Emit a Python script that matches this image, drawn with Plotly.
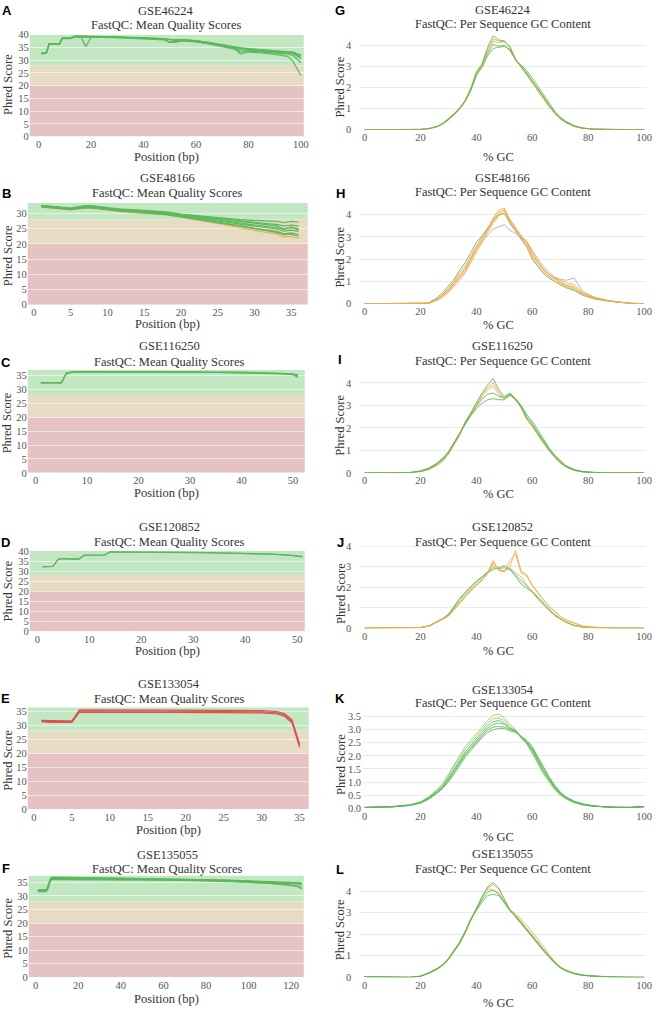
import plotly.graph_objects as go

W, H = 660, 1015
GREEN = '#5cb85c'
ORANGE = '#f0ad4e'
RED = '#d9534f'
MAUVE = '#c9a0a8'

# ---------------- Mean quality score data ----------------
A_x = [1, 2, 3, 4, 5, 6, 7, 8, 9, 10, 12, 14, 16, 18, 20, 25, 30, 35, 40, 45, 48, 50, 52, 55, 60, 65, 70, 75, 77, 80, 85, 90, 95, 97, 100]
A1 = [32.8, 32.8, 32.8, 36.4, 36.4, 36.4, 36.4, 36.4, 38.6, 38.6, 38.6, 39.3, 39.3, 39.3, 39.2, 39.1, 39.0, 38.9, 38.8, 38.6, 38.4, 38.0, 37.8, 38.0, 37.6, 36.8, 35.9, 34.9, 34.6, 34.3, 33.9, 33.5, 33.2, 33.0, 31.6]
A2 = [32.5, 32.5, 33.0, 36.3, 36.3, 36.3, 36.3, 36.3, 38.5, 38.5, 38.5, 39.2, 39.2, 39.2, 39.1, 39.0, 38.9, 38.8, 38.6, 38.4, 38.1, 37.1, 37.3, 37.8, 37.4, 36.6, 35.7, 34.6, 34.0, 33.9, 33.5, 33.1, 32.8, 32.6, 30.6]
A3 = [32.6, 32.6, 32.9, 36.5, 36.5, 36.5, 36.5, 36.5, 38.7, 38.7, 38.7, 39.4, 39.4, 39.4, 39.3, 39.2, 39.1, 39.0, 38.9, 38.7, 38.5, 38.2, 38.0, 38.1, 37.7, 37.0, 36.1, 35.1, 34.8, 34.5, 34.1, 33.8, 33.4, 33.2, 32.0]
A4 = [32.7, 32.7, 32.7, 36.4, 36.4, 36.4, 36.4, 36.4, 38.6, 38.6, 38.6, 39.3, 39.3, 35.3, 38.9, 39.0, 38.9, 38.8, 38.6, 38.4, 38.1, 36.9, 37.2, 37.7, 37.3, 36.5, 35.6, 34.5, 33.2, 33.6, 33.2, 32.8, 32.4, 31.9, 29.0]
A5 = [32.5, 32.5, 32.8, 36.2, 36.2, 36.2, 36.2, 36.2, 38.4, 38.4, 38.4, 39.1, 39.1, 39.1, 39.0, 38.9, 38.8, 38.6, 38.4, 38.2, 37.9, 37.0, 37.0, 37.6, 37.2, 36.4, 35.4, 34.2, 32.5, 33.2, 32.8, 32.3, 31.5, 29.5, 24.0]
A6 = [32.8, 32.8, 33.1, 36.5, 36.5, 36.5, 36.5, 36.5, 38.7, 38.7, 38.7, 39.4, 39.4, 39.4, 39.3, 39.2, 39.0, 38.9, 38.8, 38.6, 38.4, 38.1, 37.9, 38.0, 37.6, 36.9, 36.0, 35.0, 34.7, 34.4, 34.0, 33.6, 33.3, 32.9, 31.0]

B_x = [1, 2, 3, 4, 5, 6, 7, 8, 9, 10, 12, 14, 16, 18, 20, 22, 24, 26, 28, 30, 31, 32, 33, 34, 35, 36]
B1 = [32.7, 32.5, 32.3, 32.0, 31.8, 32.2, 32.6, 32.5, 32.2, 31.9, 31.4, 31.2, 30.9, 30.5, 29.8, 29.3, 28.8, 28.3, 28.0, 27.7, 27.6, 27.5, 27.4, 27.0, 27.4, 27.2]
B2 = [32.6, 32.4, 32.2, 31.9, 31.7, 32.1, 32.5, 32.4, 32.0, 31.7, 31.3, 31.0, 30.7, 30.3, 29.6, 29.1, 28.5, 27.9, 27.5, 27.0, 26.8, 26.6, 26.4, 25.9, 26.2, 25.9]
B3 = [32.5, 32.3, 32.1, 31.8, 31.6, 31.9, 32.3, 32.2, 31.9, 31.6, 31.1, 30.8, 30.5, 30.1, 29.4, 28.8, 28.2, 27.5, 26.9, 26.3, 26.0, 25.8, 25.5, 25.0, 25.3, 25.0]
B4 = [32.4, 32.2, 32.0, 31.7, 31.5, 31.8, 32.2, 32.1, 31.8, 31.5, 31.0, 30.7, 30.3, 29.9, 29.2, 28.6, 27.9, 27.2, 26.5, 25.8, 25.5, 25.2, 24.9, 24.2, 24.5, 24.1]
B5 = [32.3, 32.1, 31.9, 31.6, 31.4, 31.7, 32.0, 31.9, 31.6, 31.3, 30.8, 30.5, 30.1, 29.7, 29.0, 28.3, 27.6, 26.8, 26.0, 25.1, 24.8, 24.5, 24.1, 23.3, 23.6, 23.0]
B6 = [32.1, 31.9, 31.7, 31.4, 31.2, 31.5, 31.8, 31.7, 31.4, 31.1, 30.6, 30.2, 29.8, 29.5, 28.8, 28.0, 27.2, 26.3, 25.3, 24.3, 24.0, 23.6, 23.3, 22.3, 22.5, 21.8]
B7 = [32.5, 32.3, 32.1, 31.8, 31.6, 32.0, 32.4, 32.3, 32.0, 31.7, 31.2, 30.9, 30.6, 30.2, 29.5, 29.0, 28.4, 27.8, 27.3, 26.8, 26.5, 26.3, 26.0, 24.8, 25.6, 24.6]
B8 = [32.2, 32.0, 31.8, 31.5, 31.3, 31.6, 31.9, 31.8, 31.5, 31.2, 30.7, 30.4, 30.0, 29.6, 28.9, 28.2, 27.5, 26.6, 25.8, 24.9, 24.6, 24.2, 23.8, 23.0, 23.2, 22.5]

C_x = [1, 2, 3, 4, 5, 6, 7, 8, 10, 15, 20, 25, 30, 35, 40, 45, 48, 50, 51]
C1 = [32.4, 32.4, 32.4, 32.4, 32.4, 36.0, 36.3, 36.4, 36.4, 36.4, 36.4, 36.3, 36.3, 36.2, 36.2, 36.0, 35.8, 35.6, 35.3]
C2 = [32.4, 32.4, 32.4, 32.4, 32.4, 35.8, 36.2, 36.3, 36.3, 36.3, 36.3, 36.2, 36.2, 36.1, 36.0, 35.8, 35.6, 35.3, 34.3]
C3 = [32.5, 32.5, 32.5, 32.5, 32.5, 35.9, 36.2, 36.3, 36.4, 36.4, 36.3, 36.3, 36.2, 36.1, 36.1, 35.9, 35.7, 35.4, 34.8]

D_x = [1, 2, 3, 4, 5, 6, 7, 8, 9, 10, 11, 12, 13, 14, 15, 20, 25, 30, 35, 40, 45, 48, 50, 51]
D1 = [32.1, 32.1, 32.3, 35.8, 36.2, 36.0, 35.9, 36.0, 37.8, 37.8, 37.8, 37.8, 38.0, 39.5, 39.5, 39.5, 39.4, 39.2, 39.0, 38.8, 38.4, 38.0, 37.6, 37.1]
D2 = [32.2, 32.2, 32.4, 35.9, 36.3, 36.1, 36.0, 36.1, 37.9, 37.9, 37.9, 37.9, 38.1, 39.6, 39.6, 39.6, 39.5, 39.3, 39.1, 38.9, 38.5, 38.1, 37.8, 37.4]

E_x = [1, 2, 3, 4, 5, 6, 7, 8, 10, 15, 20, 25, 30, 31, 32, 33, 34, 35]
E1 = [31.7, 31.6, 31.6, 31.6, 31.6, 35.5, 35.5, 35.5, 35.5, 35.4, 35.4, 35.3, 35.2, 35.1, 34.9, 34.2, 31.9, 23.3]
E2 = [31.5, 31.3, 31.3, 31.3, 31.3, 35.1, 35.1, 35.1, 35.1, 35.0, 35.0, 34.9, 34.8, 34.7, 34.5, 33.7, 31.4, 22.7]
E3 = [31.3, 31.0, 31.0, 31.0, 31.0, 34.7, 34.7, 34.7, 34.7, 34.6, 34.6, 34.5, 34.4, 34.3, 34.0, 33.2, 30.9, 22.1]

F_x = [1, 2, 3, 4, 5, 6, 7, 8, 9, 10, 15, 20, 30, 40, 50, 60, 70, 80, 90, 100, 110, 115, 120, 123, 125]
F1 = [32.1, 32.1, 32.1, 32.1, 32.1, 34.0, 36.6, 36.9, 36.9, 36.9, 36.8, 36.7, 36.6, 36.5, 36.4, 36.3, 36.2, 36.0, 35.8, 35.5, 35.3, 35.2, 35.0, 34.9, 34.8]
F2 = [32.1, 32.1, 32.1, 32.1, 32.1, 33.5, 35.8, 36.1, 36.1, 36.2, 36.2, 36.2, 36.2, 36.1, 36.1, 36.0, 35.9, 35.8, 35.6, 35.3, 35.0, 34.8, 34.6, 34.4, 34.0]
F3 = [31.6, 31.6, 31.6, 31.6, 31.6, 33.0, 35.7, 36.0, 36.0, 36.0, 36.0, 36.0, 36.0, 36.0, 35.9, 35.8, 35.7, 35.5, 35.3, 35.0, 34.6, 34.3, 34.0, 33.6, 33.2]
F4 = [31.5, 31.5, 31.5, 31.5, 31.5, 33.2, 35.9, 36.3, 36.3, 36.3, 36.3, 36.3, 36.2, 36.2, 36.1, 36.0, 35.9, 35.7, 35.4, 35.1, 34.7, 34.4, 34.0, 33.4, 32.5]
F5 = [32.2, 32.2, 32.2, 32.2, 32.2, 34.2, 36.2, 36.6, 36.6, 36.6, 36.6, 36.5, 36.4, 36.4, 36.3, 36.2, 36.1, 35.9, 35.7, 35.4, 35.1, 34.9, 34.7, 34.5, 34.3]

# ---------------- Per sequence GC content data ----------------
GC_x = [0, 10, 16, 20, 23, 26, 28, 30, 32, 34, 36, 38, 40, 42, 44, 46, 48, 50, 52, 54, 56, 58, 60, 62, 64, 66, 68, 70, 72, 75, 78, 82, 86, 90, 95, 100]

G1 = [0, 0, 0, 0.01, 0.04, 0.15, 0.28, 0.48, 0.72, 1.0, 1.35, 1.9, 2.65, 3.0, 3.6, 4.05, 3.95, 4.0, 3.75, 3.3, 3.0, 2.7, 2.3, 1.95, 1.55, 1.15, 0.82, 0.55, 0.36, 0.17, 0.07, 0.02, 0.005, 0, 0, 0]
G2 = [0, 0, 0, 0.01, 0.05, 0.16, 0.3, 0.5, 0.75, 1.02, 1.38, 1.95, 2.75, 3.1, 3.8, 4.3, 4.2, 4.15, 3.95, 3.35, 3.0, 2.65, 2.2, 1.85, 1.45, 1.08, 0.76, 0.5, 0.33, 0.15, 0.06, 0.02, 0.005, 0, 0, 0]
G3 = [0, 0, 0, 0.01, 0.04, 0.14, 0.27, 0.46, 0.7, 0.98, 1.33, 1.85, 2.55, 2.95, 3.5, 3.85, 3.9, 3.95, 3.8, 3.3, 3.05, 2.8, 2.45, 2.05, 1.65, 1.25, 0.88, 0.6, 0.4, 0.19, 0.08, 0.02, 0.005, 0, 0, 0]
G4 = [0, 0, 0, 0.01, 0.05, 0.17, 0.31, 0.52, 0.76, 1.05, 1.4, 1.98, 2.7, 3.05, 3.7, 4.2, 4.1, 4.2, 3.9, 3.3, 2.95, 2.6, 2.2, 1.85, 1.5, 1.12, 0.8, 0.52, 0.34, 0.16, 0.06, 0.02, 0.005, 0, 0, 0]
G5 = [0, 0, 0, 0.01, 0.05, 0.15, 0.29, 0.49, 0.73, 1.0, 1.36, 1.92, 2.7, 3.1, 3.9, 4.45, 4.25, 4.2, 3.9, 3.35, 3.0, 2.7, 2.3, 1.95, 1.55, 1.15, 0.8, 0.54, 0.35, 0.16, 0.07, 0.02, 0.005, 0, 0, 0]

H1 = [0, 0, 0, 0, 0.03, 0.22, 0.4, 0.65, 0.95, 1.3, 1.6, 2.05, 2.55, 2.95, 3.35, 3.8, 4.1, 4.2, 3.7, 3.35, 3.0, 2.7, 2.15, 1.8, 1.5, 1.28, 1.1, 0.95, 0.82, 0.7, 0.42, 0.25, 0.15, 0.08, 0.02, 0]
H2 = [0, 0, 0, 0, 0.02, 0.18, 0.35, 0.55, 0.85, 1.15, 1.45, 1.95, 2.45, 2.85, 3.25, 3.7, 4.0, 4.25, 3.8, 3.4, 3.05, 2.8, 2.3, 1.9, 1.55, 1.3, 1.12, 0.98, 0.85, 0.75, 0.45, 0.27, 0.16, 0.08, 0.02, 0]
H3 = [0, 0, 0, 0, 0.04, 0.28, 0.5, 0.8, 1.1, 1.5, 1.85, 2.3, 2.75, 3.05, 3.4, 3.75, 4.0, 4.05, 3.6, 3.25, 2.9, 2.55, 2.0, 1.65, 1.35, 1.15, 0.98, 0.85, 0.72, 0.6, 0.38, 0.22, 0.13, 0.07, 0.02, 0]
H4 = [0, 0, 0, 0, 0.02, 0.15, 0.3, 0.5, 0.78, 1.05, 1.4, 1.85, 2.35, 2.8, 3.2, 3.6, 3.95, 4.1, 3.65, 3.3, 3.0, 2.75, 2.25, 1.85, 1.55, 1.3, 1.15, 1.05, 0.95, 0.85, 0.5, 0.3, 0.17, 0.09, 0.02, 0]
H5 = [0, 0, 0, 0, 0.02, 0.2, 0.38, 0.6, 0.9, 1.2, 1.55, 2.0, 2.45, 2.8, 3.1, 3.35, 3.45, 3.55, 3.3, 3.15, 2.95, 2.8, 2.4, 2.0, 1.65, 1.4, 1.2, 1.1, 1.05, 1.15, 0.55, 0.3, 0.17, 0.08, 0.02, 0]
H6 = [0, 0, 0, 0, 0.03, 0.2, 0.42, 0.7, 1.0, 1.4, 1.7, 2.15, 2.6, 3.0, 3.3, 3.85, 4.2, 4.3, 3.75, 3.35, 2.95, 2.6, 2.05, 1.7, 1.42, 1.2, 1.02, 0.9, 0.78, 0.65, 0.4, 0.25, 0.15, 0.08, 0.02, 0]

I1 = [0, 0, 0.01, 0.08, 0.2, 0.42, 0.62, 0.9, 1.3, 1.75, 2.2, 2.6, 2.95, 3.3, 3.5, 3.55, 3.4, 3.35, 3.5, 3.25, 2.95, 2.5, 2.2, 1.8, 1.4, 1.05, 0.75, 0.5, 0.3, 0.13, 0.05, 0.01, 0, 0, 0, 0]
I2 = [0, 0, 0.01, 0.06, 0.15, 0.35, 0.55, 0.85, 1.25, 1.7, 2.2, 2.65, 3.05, 3.45, 3.8, 4.0, 3.6, 3.3, 3.5, 3.3, 2.95, 2.45, 2.1, 1.7, 1.35, 1.0, 0.7, 0.45, 0.28, 0.12, 0.04, 0.01, 0, 0, 0, 0]
I3 = [0, 0, 0.01, 0.09, 0.22, 0.45, 0.66, 0.95, 1.35, 1.8, 2.2, 2.55, 2.85, 3.1, 3.25, 3.3, 3.25, 3.25, 3.45, 3.3, 3.0, 2.6, 2.3, 1.9, 1.5, 1.12, 0.8, 0.55, 0.33, 0.15, 0.06, 0.01, 0, 0, 0, 0]
I4 = [0, 0, 0.01, 0.07, 0.18, 0.4, 0.6, 0.9, 1.3, 1.75, 2.25, 2.7, 3.1, 3.55, 3.9, 4.2, 3.7, 3.4, 3.55, 3.3, 2.9, 2.45, 2.1, 1.72, 1.35, 1.0, 0.72, 0.47, 0.28, 0.12, 0.05, 0.01, 0, 0, 0, 0]
I5 = [0, 0, 0.01, 0.05, 0.14, 0.33, 0.52, 0.82, 1.22, 1.65, 2.3, 2.6, 3.0, 3.4, 3.7, 3.85, 3.5, 3.3, 3.45, 3.25, 2.9, 2.35, 2.05, 1.65, 1.3, 0.98, 0.68, 0.44, 0.26, 0.11, 0.04, 0.01, 0, 0, 0, 0]

J1 = [0, 0, 0, 0.03, 0.1, 0.3, 0.45, 0.62, 0.95, 1.3, 1.6, 1.9, 2.15, 2.4, 2.75, 3.1, 2.8, 2.75, 2.95, 2.7, 2.5, 2.1, 1.75, 1.4, 1.1, 0.85, 0.6, 0.42, 0.28, 0.12, 0.05, 0.02, 0, 0, 0, 0]
J2 = [0, 0, 0, 0.03, 0.1, 0.3, 0.45, 0.6, 0.92, 1.25, 1.55, 1.85, 2.1, 2.35, 2.7, 3.3, 2.85, 2.8, 3.3, 3.6, 2.7, 2.55, 2.05, 1.7, 1.35, 1.05, 0.8, 0.57, 0.4, 0.25, 0.11, 0.05, 0.02, 0, 0, 0]
J3 = [0, 0, 0, 0.03, 0.12, 0.32, 0.48, 0.68, 1.05, 1.45, 1.75, 2.05, 2.3, 2.5, 2.75, 2.95, 2.9, 2.95, 2.85, 2.6, 2.3, 2.05, 1.8, 1.5, 1.2, 0.92, 0.65, 0.45, 0.3, 0.13, 0.05, 0.02, 0, 0, 0, 0]
J4 = [0, 0, 0, 0.02, 0.09, 0.28, 0.43, 0.58, 0.9, 1.22, 1.52, 1.82, 2.08, 2.32, 2.65, 3.2, 2.85, 2.75, 3.0, 3.8, 2.8, 2.6, 2.1, 1.72, 1.38, 1.08, 0.82, 0.58, 0.4, 0.24, 0.1, 0.04, 0.01, 0, 0, 0]
J5 = [0, 0, 0, 0.03, 0.11, 0.3, 0.46, 0.66, 1.0, 1.4, 1.72, 2.0, 2.25, 2.5, 2.7, 2.85, 2.95, 3.05, 2.9, 2.5, 2.15, 1.95, 1.75, 1.48, 1.18, 0.9, 0.66, 0.46, 0.3, 0.14, 0.05, 0.02, 0, 0, 0, 0]

K1 = [0.03, 0.06, 0.12, 0.22, 0.4, 0.65, 0.85, 1.15, 1.5, 1.85, 2.15, 2.4, 2.65, 2.9, 3.15, 3.3, 3.35, 3.25, 3.05, 2.95, 2.7, 2.5, 2.2, 1.8, 1.4, 1.1, 0.78, 0.55, 0.4, 0.24, 0.15, 0.08, 0.05, 0.03, 0.03, 0.06]
K2 = [0.03, 0.06, 0.13, 0.24, 0.45, 0.72, 0.95, 1.3, 1.7, 2.05, 2.35, 2.6, 2.85, 3.1, 3.35, 3.55, 3.6, 3.45, 3.2, 3.0, 2.7, 2.45, 2.1, 1.7, 1.3, 1.0, 0.7, 0.5, 0.35, 0.2, 0.12, 0.07, 0.04, 0.03, 0.03, 0.05]
K3 = [0.03, 0.05, 0.1, 0.19, 0.35, 0.57, 0.76, 1.0, 1.3, 1.65, 1.95, 2.2, 2.45, 2.7, 2.9, 3.0, 3.05, 3.05, 2.95, 2.9, 2.75, 2.6, 2.35, 1.95, 1.55, 1.2, 0.88, 0.62, 0.44, 0.27, 0.17, 0.09, 0.05, 0.03, 0.03, 0.07]
K4 = [0.03, 0.06, 0.11, 0.21, 0.38, 0.62, 0.82, 1.1, 1.45, 1.78, 2.08, 2.32, 2.58, 2.82, 3.05, 3.2, 3.25, 3.2, 3.05, 2.95, 2.7, 2.5, 2.25, 1.85, 1.45, 1.13, 0.8, 0.57, 0.4, 0.24, 0.15, 0.08, 0.05, 0.03, 0.03, 0.06]
K5 = [0.03, 0.06, 0.12, 0.23, 0.42, 0.68, 0.9, 1.22, 1.6, 1.95, 2.25, 2.5, 2.75, 3.0, 3.25, 3.42, 3.45, 3.35, 3.12, 2.98, 2.72, 2.48, 2.15, 1.75, 1.35, 1.05, 0.74, 0.52, 0.37, 0.22, 0.13, 0.07, 0.04, 0.03, 0.03, 0.05]
K6 = [0.02, 0.05, 0.11, 0.2, 0.36, 0.6, 0.8, 1.05, 1.38, 1.72, 2.02, 2.28, 2.52, 2.76, 2.98, 3.1, 3.12, 3.1, 3.0, 2.92, 2.72, 2.55, 2.3, 1.9, 1.5, 1.16, 0.84, 0.6, 0.42, 0.25, 0.16, 0.09, 0.05, 0.03, 0.03, 0.06]

L1 = [0.03, 0, 0, 0.05, 0.2, 0.4, 0.58, 0.85, 1.2, 1.6, 2.1, 2.7, 3.15, 3.6, 3.95, 4.05, 3.9, 3.5, 3.1, 2.85, 2.55, 2.25, 1.95, 1.6, 1.28, 0.98, 0.68, 0.46, 0.32, 0.18, 0.1, 0.05, 0.03, 0.01, 0, 0]
L2 = [0.02, 0, 0, 0.04, 0.18, 0.37, 0.55, 0.8, 1.15, 1.55, 2.05, 2.65, 3.15, 3.7, 4.15, 4.3, 4.1, 3.6, 3.15, 2.9, 2.6, 2.3, 2.0, 1.65, 1.32, 1.0, 0.7, 0.48, 0.33, 0.19, 0.11, 0.06, 0.03, 0.01, 0, 0]
L3 = [0.03, 0, 0, 0.06, 0.22, 0.42, 0.6, 0.88, 1.25, 1.65, 2.15, 2.7, 3.1, 3.5, 3.8, 3.85, 3.8, 3.45, 3.1, 2.85, 2.55, 2.2, 1.9, 1.55, 1.22, 0.93, 0.65, 0.44, 0.3, 0.17, 0.09, 0.05, 0.03, 0.01, 0, 0]
L4 = [0.02, 0, 0, 0.05, 0.19, 0.38, 0.57, 0.83, 1.18, 1.58, 2.08, 2.68, 3.2, 3.7, 4.1, 4.05, 3.85, 3.5, 3.15, 2.95, 2.7, 2.42, 2.1, 1.75, 1.4, 1.05, 0.74, 0.5, 0.34, 0.2, 0.12, 0.06, 0.03, 0.01, 0, 0]
L5 = [0.03, 0, 0, 0.05, 0.2, 0.4, 0.58, 0.85, 1.2, 1.6, 2.1, 2.7, 3.2, 3.75, 4.2, 4.4, 4.15, 3.6, 3.1, 2.8, 2.5, 2.2, 1.9, 1.55, 1.22, 0.95, 0.67, 0.45, 0.31, 0.17, 0.09, 0.05, 0.03, 0.01, 0, 0]

# ---------------- Panel configuration (positions in px) ----------------
quality = [
    dict(letter='A', gse='GSE46224', x=A_x, lines=[A1, A2, A3, A4, A5, A6], colors=[GREEN] * 6,
         xd=(29, 306), yd=(30, 133), xr=(-3.4, 101.1), yr=(0, 40), xdt=20,
         t1=6, t2=20, tx=167, lx=6, ly=6, ay=154, yty=80),
    dict(letter='B', gse='GSE48166', x=B_x, lines=[B6, B8, B5, B4, B3, B7, B2, B1],
         colors=[ORANGE, GREEN, GREEN, GREEN, GREEN, GREEN, GREEN, GREEN],
         xd=(27, 310), yd=(200, 303), xr=(-0.85, 37.24), yr=(0, 33.5), xdt=5,
         t1=175, t2=190, tx=168, lx=6, ly=191, ay=323, yty=253),
    dict(letter='C', gse='GSE116250', x=C_x, lines=[C1, C2, C3], colors=[GREEN] * 3,
         xd=(27, 307), yd=(369, 473), xr=(-1.54, 52.3), yr=(0, 37), xdt=10,
         t1=345, t2=361, tx=170, lx=5, ly=361, ay=493, yty=422),
    dict(letter='D', gse='GSE120852', x=D_x, lines=[D1, D2], colors=[GREEN] * 2,
         xd=(29, 307), yd=(552, 633), xr=(-1.47, 51.46), yr=(0, 40), xdt=10,
         t1=528, t2=543, tx=170, lx=5, ly=543, ay=653, yty=592),
    dict(letter='E', gse='GSE133054', x=E_x, lines=[E1, E2, E3], colors=[RED] * 3,
         xd=(27, 311), yd=(710, 813), xr=(-0.82, 36.2), yr=(0, 36.4), xdt=5,
         t1=686, t2=702, tx=170, lx=5, ly=701, ay=834, yty=763),
    dict(letter='F', gse='GSE135055', x=F_x, lines=[F3, F4, F2, F5, F1], colors=[GREEN] * 5,
         xd=(28, 306), yd=(880, 983), xr=(-3.25, 125.9), yr=(0, 37.5), xdt=20,
         t1=859, t2=873, tx=168, lx=5, ly=873, ay=1005, yty=933),
]

gc = [
    dict(letter='G', gse='GSE46224', lines=[G3, G2, G1, G4, G5], colors=[GREEN, ORANGE, GREEN, ORANGE, GREEN],
         yd=(30, 126), yr=(0, 4.5), ydt=1, t1=5, t2=19, lx=343, ly=6, ay=154, yty=83, xl=362, so=7),
    dict(letter='H', gse='GSE48166', lines=[H3, H5, H1, H2, H4, H6], colors=[GREEN, MAUVE, ORANGE, ORANGE, ORANGE, ORANGE],
         yd=(200, 302), yr=(0, 4.53), ydt=1, t1=175, t2=189, lx=343, ly=191, ay=324, yty=255, xl=362, so=7),
    dict(letter='I', gse='GSE116250', lines=[I2, I5, I1, I3, I4], colors=[ORANGE, ORANGE, GREEN, GREEN, GREEN],
         yd=(370, 473), yr=(0, 4.53), ydt=1, t1=345, t2=360, lx=343, ly=358, ay=494, yty=425, xl=362, so=7),
    dict(letter='J', gse='GSE120852', lines=[J3, J5, J1, J2, J4], colors=[GREEN, GREEN, ORANGE, ORANGE, ORANGE],
         yd=(545, 630), yr=(0, 4.1), ydt=1, t1=528, t2=543, lx=343, ly=543, ay=653, yty=595, xl=362, so=7),
    dict(letter='K', gse='GSE133054', lines=[K2, K5, K1, K4, K6, K3], colors=['#8fcf6a', '#8fcf6a', GREEN, GREEN, GREEN, GREEN],
         yd=(712, 812), yr=(0, 3.78), ydt=0.5, t1=692, t2=706, lx=343, ly=701, ay=841, yty=768, xl=366, so=1),
    dict(letter='L', gse='GSE135055', lines=[L2, L4, L1, L3, L5], colors=[ORANGE, ORANGE, GREEN, GREEN, GREEN],
         yd=(885, 983), yr=(0, 4.5), ydt=1, t1=858, t2=873, lx=343, ly=874, ay=1009, yty=935, xl=362, so=7),
]

SERIF = 'Liberation Serif'
TICKFONT = dict(family=SERIF, size=10.5, color='#555555')
GC_ZERO_PX = 367.5
GC_HUNDRED_PX = 650.0


def px_x(v):
    return v / W


def px_y(v):
    return 1 - v / H


fig = go.Figure()
annotations = []
shapes = []
layout_axes = {}


def add_text(x, y, text, size=12.5, color='#333333', angle=0, family=SERIF):
    annotations.append(dict(x=px_x(x), y=px_y(y), xref='paper', yref='paper', text=text,
                            showarrow=False, xanchor='center', yanchor='middle', textangle=angle,
                            font=dict(family=family, size=size, color=color)))


idx = 0
for p in quality:
    idx += 1
    xa = 'x' if idx == 1 else f'x{idx}'
    ya = 'y' if idx == 1 else f'y{idx}'
    for ys, c in zip(p['lines'], p['colors']):
        fig.add_trace(go.Scatter(x=p['x'], y=ys, mode='lines', xaxis=xa, yaxis=ya,
                                 line=dict(color=c, width=1.2), showlegend=False, hoverinfo='skip'))
    layout_axes['xaxis' if idx == 1 else f'xaxis{idx}'] = dict(
        domain=[px_x(p['xd'][0]), px_x(p['xd'][1])], range=list(p['xr']), anchor=ya,
        dtick=p['xdt'], tick0=0, showgrid=False, zeroline=False, showline=False,
        tickfont=TICKFONT, ticks='')
    layout_axes['yaxis' if idx == 1 else f'yaxis{idx}'] = dict(
        domain=[px_y(p['yd'][1]), px_y(p['yd'][0])], range=list(p['yr']), anchor=xa,
        dtick=5, tick0=0, showgrid=True, gridcolor='rgba(255,255,255,0.55)', gridwidth=1,
        zeroline=False, showline=False, tickfont=TICKFONT, ticks='')
    for (y0, y1, col) in [(28, p['yr'][1], '#c3e6c3'), (20, 28, '#e6dcc3'), (0, 20, '#e6c3c3')]:
        shapes.append(dict(type='rect', xref=f'{xa} domain', yref=ya, x0=0, x1=1, y0=y0, y1=y1,
                           fillcolor=col, line=dict(width=0), layer='below'))
    cx = (p['xd'][0] + p['xd'][1]) / 2
    add_text(p['tx'], p['t1'], p['gse'])
    add_text(p['tx'], p['t2'], 'FastQC: Mean Quality Scores')
    add_text(cx, p['ay'], 'Position (bp)')
    add_text(7, p['yty'], 'Phred Score', angle=-90)
    add_text(p['lx'], p['ly'], '<b>' + p['letter'] + '</b>', size=13, color='#000000', family='Liberation Sans')

scale = (GC_HUNDRED_PX - GC_ZERO_PX) / 100.0
for p in gc:
    idx += 1
    xa = f'x{idx}'
    ya = f'y{idx}'
    for ys, c in zip(p['lines'], p['colors']):
        fig.add_trace(go.Scatter(x=GC_x, y=ys, mode='lines', xaxis=xa, yaxis=ya, opacity=0.85,
                                 line=dict(color=c, width=1), showlegend=False, hoverinfo='skip'))
    xr = [(p['xl'] - GC_ZERO_PX) / scale, (652 - GC_ZERO_PX) / scale]
    layout_axes[f'xaxis{idx}'] = dict(
        domain=[px_x(p['xl']), px_x(652)], range=xr, anchor=ya, dtick=20, tick0=0,
        showgrid=False, zeroline=False, showline=False, tickfont=TICKFONT, ticks='')
    yax = dict(domain=[px_y(p['yd'][1]), px_y(p['yd'][0])], range=list(p['yr']), anchor=xa,
               dtick=p['ydt'], tick0=0, showgrid=True, gridcolor='#ececec', gridwidth=1,
               zeroline=False, showline=False, tickfont=TICKFONT, ticks='', ticklabelstandoff=p['so'])
    if p['ydt'] == 0.5:
        yax['tickformat'] = '.1f'
    layout_axes[f'yaxis{idx}'] = yax
    add_text(507, p['t1'], p['gse'])
    add_text(507, p['t2'], 'FastQC: Per Sequence GC Content')
    add_text(503, p['ay'], '% GC')
    add_text(343, p['yty'], 'Phred Score', angle=-90)
    add_text(p['lx'], p['ly'], '<b>' + p['letter'] + '</b>', size=13, color='#000000', family='Liberation Sans')

fig.update_layout(width=W, height=H, autosize=False, margin=dict(l=0, r=0, t=0, b=0),
                  paper_bgcolor='white', plot_bgcolor='white', showlegend=False,
                  annotations=annotations, shapes=shapes, **layout_axes)

fig.write_html('out.html', config={'displayModeBar': False},
               post_script="document.body.style.margin='0';document.body.style.overflow='hidden';")
